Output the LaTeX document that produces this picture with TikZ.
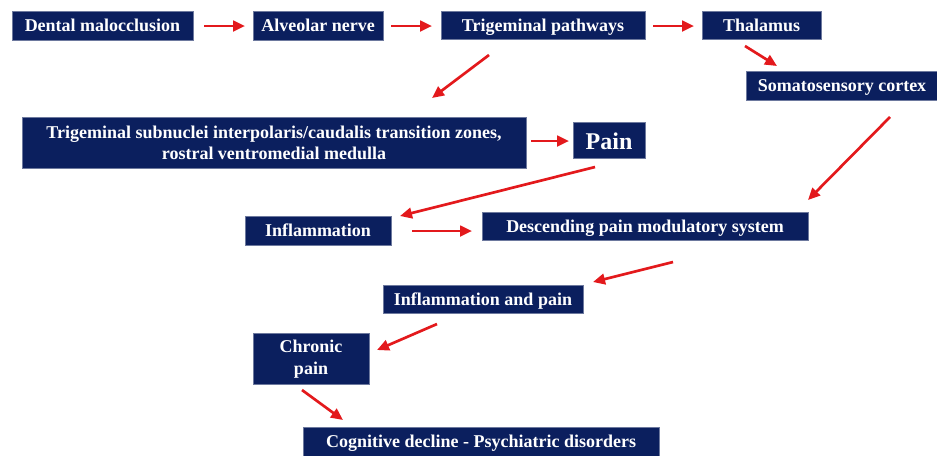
\documentclass[tikz,border=0pt]{standalone}
\usepackage{fontspec}
\setmainfont{Liberation Serif}
\usetikzlibrary{arrows.meta}
\definecolor{navy}{HTML}{0B1F5E}
\definecolor{arr}{HTML}{E3191C}
\tikzset{
  box/.style={fill=navy, draw=navy!60!white, line width=0.3pt, text=white, inner sep=0pt, align=center,
    font=\bfseries\fontsize{13.5}{16}\selectfont},
  one/.style={box, text height=11.3pt, text depth=2pt},
  conn/.style={draw=arr, line width=2pt, -{Triangle[length=9pt,width=8pt]}}
}
\begin{document}
\begin{tikzpicture}[x=0.75pt,y=-0.75pt]
\useasboundingbox (0,0) rectangle (937,455);
\node[one, minimum width=181*0.75pt, minimum height=29*0.75pt] (dm) at (102.5,25.5) {Dental malocclusion};
\node[one, minimum width=130*0.75pt, minimum height=29*0.75pt] (an) at (318,25.5) {Alveolar nerve};
\node[one, minimum width=204*0.75pt, minimum height=28*0.75pt] (tp) at (543,25) {Trigeminal pathways};
\node[one, minimum width=119*0.75pt, minimum height=28*0.75pt] (th) at (761.5,25) {Thalamus};
\node[one, minimum width=192*0.75pt, minimum height=29*0.75pt] (sc) at (842,85.5) {Somatosensory cortex};
\node[box, minimum width=504*0.75pt, minimum height=51*0.75pt] (ts) at (274,143) {Trigeminal subnuclei interpolaris/caudalis transition zones,\\rostral ventromedial medulla};
\node[box, minimum width=72*0.75pt, minimum height=36*0.75pt, text height=15.5pt, text depth=2pt, font=\bfseries\fontsize{18}{20}\selectfont] (pa) at (609,140) {Pain};
\node[one, minimum width=146*0.75pt, minimum height=29*0.75pt] (in) at (318,230.5) {Inflammation};
\node[one, minimum width=326*0.75pt, minimum height=28*0.75pt] (ds) at (645,226) {Descending pain modulatory system};
\node[one, minimum width=200*0.75pt, minimum height=28*0.75pt] (ip) at (483,299) {Inflammation and pain};
\node[box, minimum width=116*0.75pt, minimum height=51*0.75pt] (cp) at (311,359) {Chronic\\pain};
\node[one, minimum width=356*0.75pt, minimum height=29*0.75pt] (cd) at (481,441.5) {Cognitive decline - Psychiatric disorders};
% arrow end points
\coordinate (a1s) at (204,26); \coordinate (a1e) at (245,26);
\coordinate (a2s) at (391,26); \coordinate (a2e) at (432,26);
\coordinate (a3s) at (653,26); \coordinate (a3e) at (694,26);
\coordinate (a4s) at (745,46); \coordinate (a4e) at (777,66);
\coordinate (a5s) at (489,55); \coordinate (a5e) at (432,98);
\coordinate (a6s) at (531,141); \coordinate (a6e) at (569,141);
\coordinate (a7s) at (595,167); \coordinate (a7e) at (400,216);
\coordinate (a8s) at (412,231); \coordinate (a8e) at (472,231);
\coordinate (a9s) at (890,117); \coordinate (a9e) at (808,200);
\coordinate (a10s) at (673,262); \coordinate (a10e) at (593,282);
\coordinate (a11s) at (437,324); \coordinate (a11e) at (377,350);
\coordinate (a12s) at (302,390); \coordinate (a12e) at (343,420);
\foreach \i in {1,...,12} {\draw[conn] (a\i s) -- (a\i e);}
\end{tikzpicture}
\end{document}
